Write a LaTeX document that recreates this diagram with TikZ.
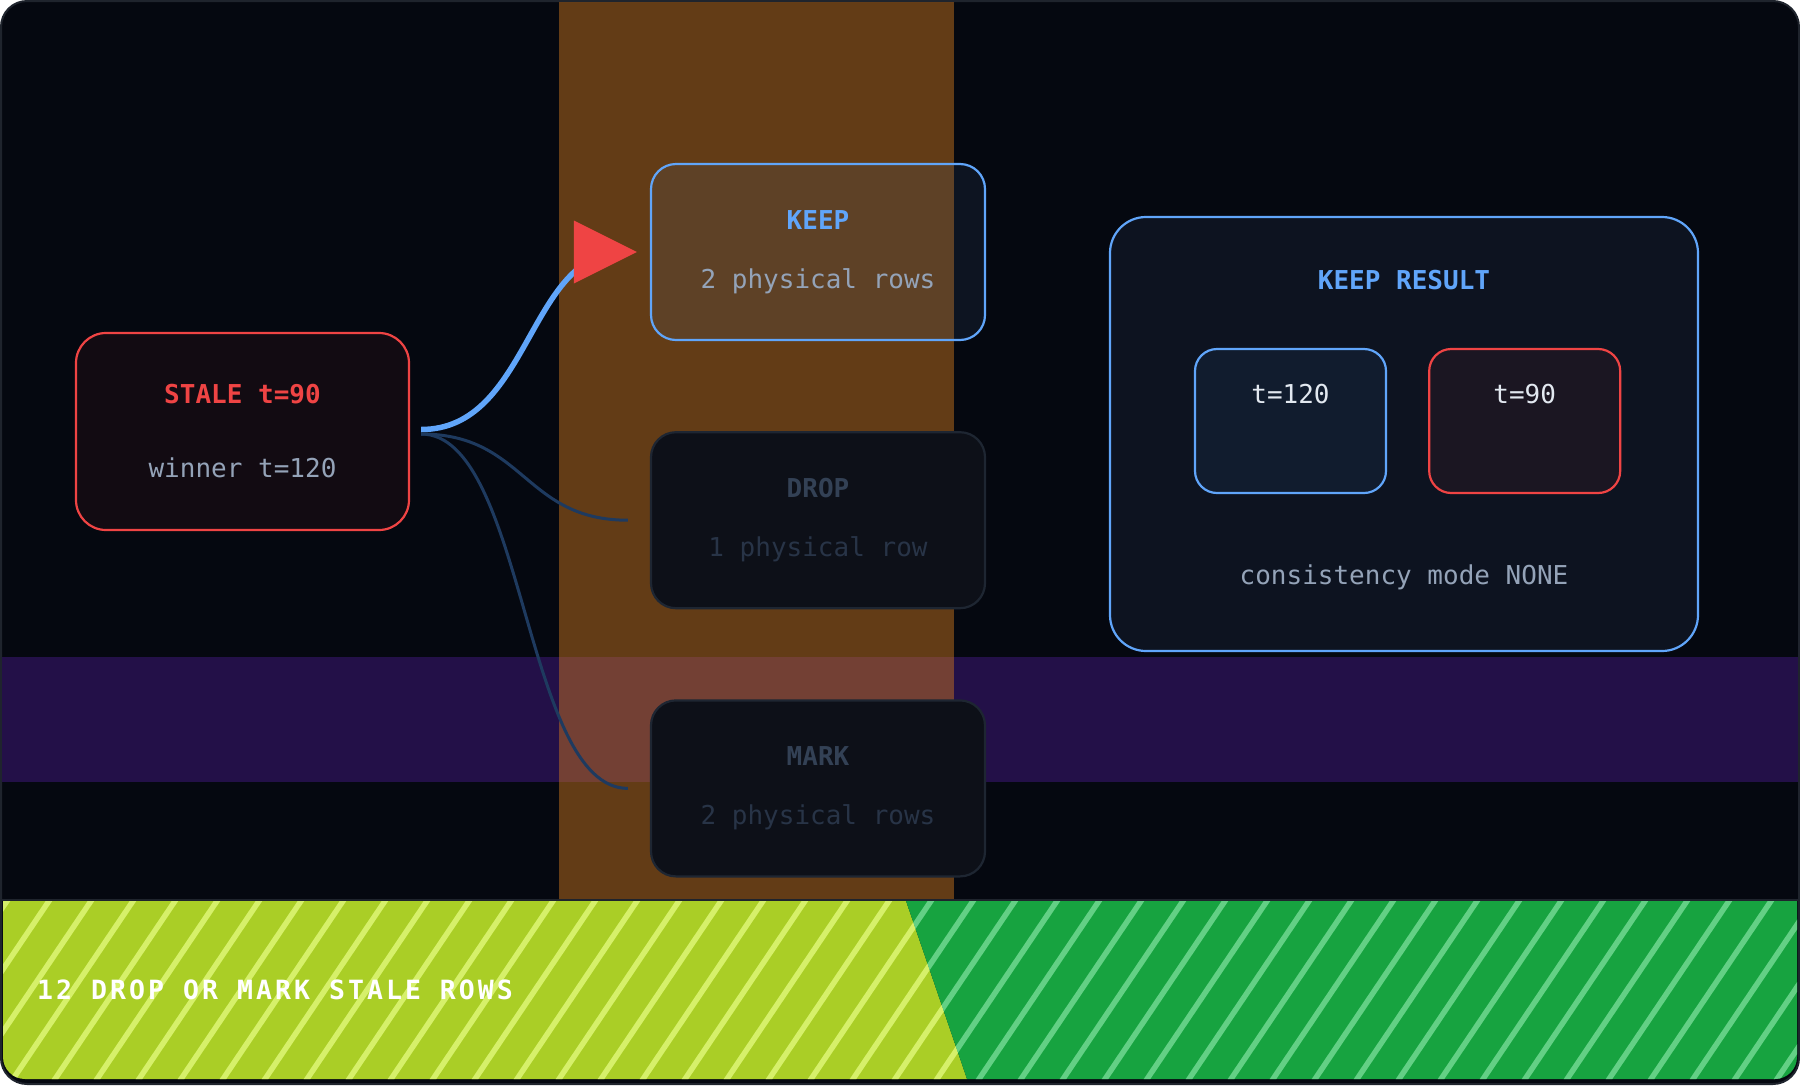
\documentclass[tikz,border=0pt]{standalone}
\usepackage{fontspec}
\setmonofont{DejaVu Sans Mono}
\newfontfamily\bannerfont{DejaVu Sans Mono}[LetterSpace=11.5]
\usepackage{xcolor}
\usetikzlibrary{arrows.meta,positioning,calc}

\definecolor{pagebg}{HTML}{050810}
\definecolor{framegray}{HTML}{1F242D}
\definecolor{amberband}{RGB}{205,119,30}
\definecolor{violetband}{HTML}{231048}
\definecolor{alertred}{HTML}{EF4444}
\definecolor{keepblue}{HTML}{60A5FA}
\definecolor{slate}{HTML}{94A3B8}
\definecolor{inkwhite}{HTML}{E2E8F0}
\definecolor{stalefill}{HTML}{120B12}
\definecolor{keepwash}{RGB}{67,101,148}
\definecolor{dimfill}{HTML}{0D1018}
\definecolor{dimline}{HTML}{1E2632}
\definecolor{dimtitle}{HTML}{334155}
\definecolor{dimtext}{HTML}{283447}
\definecolor{panelfill}{HTML}{0D1320}
\definecolor{newfill}{HTML}{111C2E}
\definecolor{oldfill}{HTML}{1B1622}
\definecolor{wireblue}{HTML}{1E3A5F}
\definecolor{limefill}{HTML}{AACE26}
\definecolor{limestripe}{HTML}{D6F06A}
\definecolor{greenfill}{HTML}{17A340}
\definecolor{greenstripe}{HTML}{63D085}

\begin{document}
\begin{tikzpicture}[
    x=1pt, y=-1pt,
    node distance=90pt and 41pt,
    opt/.style={rectangle, rounded corners=25pt, line width=2.2pt, align=center, inner sep=0pt, minimum width=334pt, minimum height=176pt, font=\ttfamily\fontsize{26}{30}\selectfont},
    keepbox/.style={opt, draw=keepblue, fill=keepwash, fill opacity=0.13, text opacity=1, text=slate},
    dimbox/.style={opt, draw=dimline, fill=dimfill, text=dimtext},
    stalebox/.style={opt, draw=alertred, fill=stalefill, text=slate, rounded corners=30pt, minimum width=333pt, minimum height=197pt},
    panel/.style={rectangle, rounded corners=36pt, line width=2.2pt, draw=keepblue, fill=panelfill, minimum width=588pt, minimum height=434pt},
    rowbox/.style={rectangle, rounded corners=22pt, line width=2.2pt, minimum width=191pt, minimum height=144pt},
    txt/.style={font=\ttfamily\fontsize{26}{30}\selectfont, inner sep=0pt, anchor=base},
    wire/.style={draw=wireblue, line width=3pt},
    keepwire/.style={draw=keepblue, line width=5.5pt, shorten >=14pt},
    tipmark/.style={draw opacity=0, line width=0.01pt, -{Triangle[length=63pt, width=63pt, color=alertred]}},
    stripe/.style={line width=5.5pt}
]
    \useasboundingbox (0,0) rectangle (1800,1085);
    \draw[line width=2pt, draw=framegray, fill=pagebg, rounded corners=26pt] (1,1) rectangle (1799,1084);

    % highlight bands
    \fill[violetband] (2,657) rectangle (1798,782);
    \fill[amberband, fill opacity=0.47] (559,2) rectangle (954,899);

    % progress strip
    \begin{scope}
        \clip (0,901) rectangle (1800,1085);
        \clip[rounded corners=22pt] (3,860) rectangle (1797,1079);
        \fill[limefill] (0,901) -- (906,901) -- (967,1079) -- (0,1079) -- cycle;
        \fill[greenfill] (906,901) -- (1800,901) -- (1800,1079) -- (967,1079) -- cycle;
        \begin{scope}
            \clip (0,901) -- (906,901) -- (967,1079) -- (0,1079) -- cycle;
            \foreach \k in {0,...,27}
                \draw[stripe, limestripe] ({11+42*\k},895) -- ++(-128,190);
        \end{scope}
        \begin{scope}
            \clip (906,901) -- (1800,901) -- (1800,1079) -- (967,1079) -- cycle;
            \foreach \k in {20,...,46}
                \draw[stripe, greenstripe] ({11+42*\k},895) -- ++(-128,190);
        \end{scope}
    \end{scope}
    \draw[line width=2pt, framegray] (2,900) -- (1798,900);
    \node[txt, anchor=base west, font=\bannerfont\bfseries\fontsize{26.5}{30}\selectfont, text=white] (banner) at (37,999) {12 DROP OR MARK STALE ROWS};

    % stale row and the three choices
    \node[stalebox] (stale) at (242.5,431.5) {\textcolor{alertred}{\textbf{STALE t=90}}\\[44pt]winner t=120};
    \node[keepbox] (keep) at (818,252) {\textcolor{keepblue}{\textbf{KEEP}}\\[29pt]2 physical rows};
    \node[dimbox, below=of keep] (drop) {\textcolor{dimtitle}{\textbf{DROP}}\\[29pt]1 physical row};
    \node[dimbox, below=of drop] (mark) {\textcolor{dimtitle}{\textbf{MARK}}\\[29pt]2 physical rows};

    % result panel
    \node[panel] (result) at (1404,434) {};
    \node[txt, text=keepblue, font=\ttfamily\bfseries\fontsize{26}{30}\selectfont] (resulttitle) at (1404,289) {KEEP RESULT};
    \node[rowbox, draw=keepblue, fill=newfill] (newrow) at (1290.5,421) {};
    \node[rowbox, draw=alertred, fill=oldfill, right=of newrow] (oldrow) {};
    \node[txt, text=inkwhite] (newval) at ($(newrow.north)+(0,56)$) {t=120};
    \node[txt, text=inkwhite] (oldval) at ($(oldrow.north)+(0,56)$) {t=90};
    \node[txt, text=slate] (mode) at (1404,584) {consistency mode NONE};

    % connectors
    \coordinate (fork) at ($(stale.east)+(11,0)$);
    \coordinate (keeptip) at ($(keep.west)+(-13,0)$);
    \draw[wire] ($(fork)+(0,2.5)$) .. controls +(104,0) and +(-104,0) .. ($(drop.west)+(-22,0)$);
    \draw[wire] ($(fork)+(0,2.5)$) .. controls +(104,0) and +(-104,0) .. ($(mark.west)+(-22,0)$);
    \draw[keepwire] ($(fork)+(0,-2)$) .. controls +(109,0) and +(-109,0) .. (keeptip);
    \draw[tipmark] ($(fork)+(0,-2)$) .. controls +(109,0) and +(-109,0) .. (keeptip);
\end{tikzpicture}
\end{document}
